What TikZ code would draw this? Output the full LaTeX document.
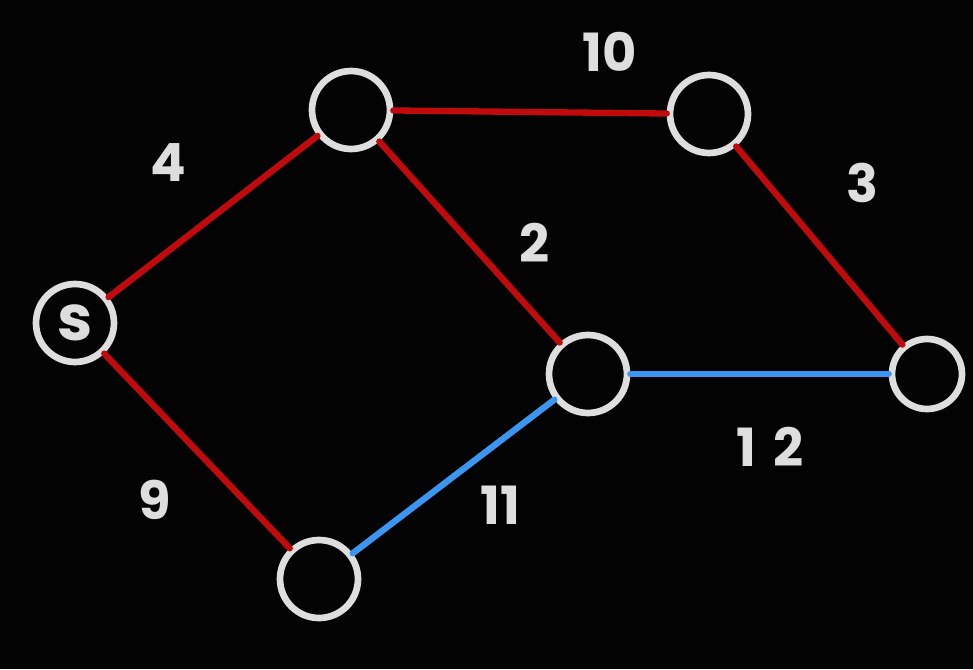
\documentclass[tikz,border=0pt]{standalone}
\usepackage{fontspec}
\setmainfont{Poppins}
\usepackage{tikz}
\usetikzlibrary{positioning, arrows.meta, calc}

\definecolor{bgblack}{RGB}{3,3,3}
\definecolor{ringgray}{RGB}{222,222,222}
\definecolor{edgered}{RGB}{192,10,12}
\definecolor{edgeblue}{RGB}{58,150,240}

\begin{document}
\begin{tikzpicture}[
		x=0.02cm, y=-0.02cm,
		vertex/.style={draw=ringgray, circle, line width=3.8pt, minimum size=1.56cm, inner sep=0pt, text=ringgray, font=\fontsize{36}{36}\selectfont\bfseries},
		redge/.style={draw=edgered, line width=3.6pt, line cap=round},
		bedge/.style={draw=edgeblue, line width=3.6pt, line cap=round},
		weight/.style={text=ringgray, font=\fontsize{30}{30}\selectfont\bfseries}
		]
		
		% Background
		\fill[bgblack] (0,0) rectangle (973,669);
		\useasboundingbox (0,0) rectangle (973,669);
		
		% Nodes
		\node[vertex] (s) at (75,323) {s};
		\node[vertex] (a) at (351,110) {};
		\node[vertex] (b) at (709,114) {};
		\node[vertex] (c) at (588,374) {};
		\node[vertex, minimum size=1.4cm] (t) at (927,374) {};
		\node[vertex] (d) at (319,579) {};
		
		% Edges
		\draw[redge] (s) -- (a);
		\draw[redge] (a) -- (b);
		\draw[redge] (b) -- (t);
		\draw[redge] (a) -- (c);
		\draw[redge] (s) -- (d);
		\draw[bedge] (d) -- (c);
		\draw[bedge] (c) -- (t);
		
		% Weights
		\node[weight] (w4) at (168,163) {4};
		\node[weight] (w10) at (610,52) {10};
		\node[weight] (w3) at (862,183) {3};
		\node[weight] (w2) at (535,243) {2};
		\node[weight] (w9) at (155,500) {9};
		\node[weight] (w11) at (500,505) {11};
		\node[weight] (w12) at (770,447) {1\,\,2};
		
	\end{tikzpicture}
\end{document}
